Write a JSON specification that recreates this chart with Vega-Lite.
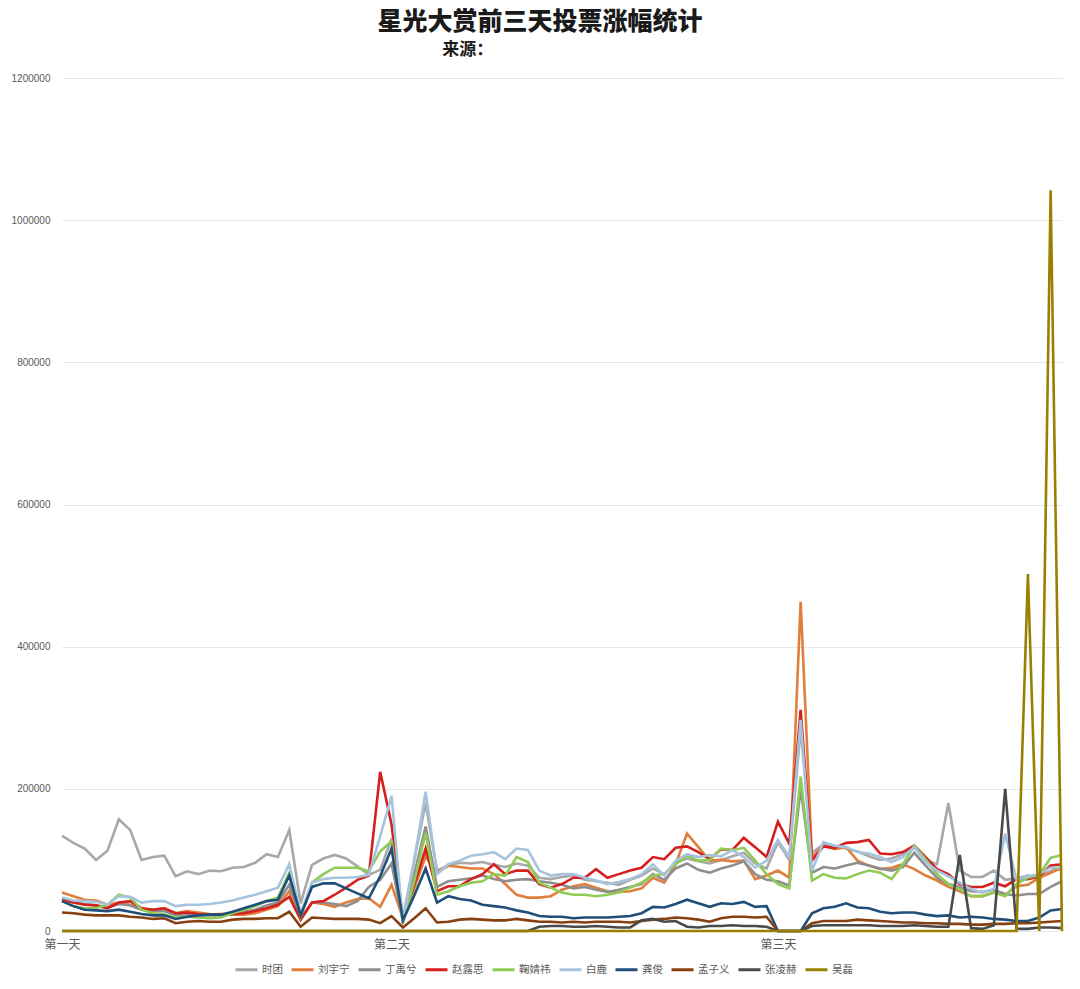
{
"$schema": "https://vega.github.io/schema/vega-lite/v6.json",
"width": 1000,
"height": 853,
"autosize": {"type": "none"},
"padding": {"left": 62, "top": 78, "right": 18, "bottom": 58},
"background": "white",
"title": {"text": "星光大赏前三天投票涨幅统计", "subtitle": "来源：　　　　　　　　　\u200b", "anchor": "middle", "dx": -22, "font": "Noto Sans CJK SC", "fontSize": 25, "fontWeight": 900, "color": "#1a1a1a", "subtitleFont": "Noto Sans CJK SC", "subtitleFontSize": 17, "subtitleFontWeight": 700, "subtitleColor": "#1a1a1a", "subtitlePadding": 7, "offset": 15},
"data": {"values": [
{"t":0,"时团":134000,"刘宇宁":54000,"丁禹兮":45000,"赵露思":44000,"鞠婧祎":42000,"白鹿":47000,"龚俊":42000,"孟子义":26000,"张凌赫":0,"吴磊":0},
{"t":1,"时团":124000,"刘宇宁":49000,"丁禹兮":40000,"赵露思":40000,"鞠婧祎":35000,"白鹿":43000,"龚俊":35000,"孟子义":25000,"张凌赫":0,"吴磊":0},
{"t":2,"时团":116000,"刘宇宁":44000,"丁禹兮":38000,"赵露思":37000,"鞠婧祎":32000,"白鹿":42000,"龚俊":30000,"孟子义":23000,"张凌赫":0,"吴磊":0},
{"t":3,"时团":100000,"刘宇宁":43000,"丁禹兮":36000,"赵露思":36000,"鞠婧祎":32000,"白鹿":41000,"龚俊":29000,"孟子义":22000,"张凌赫":0,"吴磊":0},
{"t":4,"时团":113000,"刘宇宁":37000,"丁禹兮":33000,"赵露思":32000,"鞠婧祎":37000,"白鹿":37000,"龚俊":28000,"孟子义":22000,"张凌赫":0,"吴磊":0},
{"t":5,"时团":157000,"刘宇宁":40000,"丁禹兮":38000,"赵露思":40000,"鞠婧祎":51000,"白鹿":49000,"龚俊":30000,"孟子义":22000,"张凌赫":0,"吴磊":0},
{"t":6,"时团":142000,"刘宇宁":37000,"丁禹兮":36000,"赵露思":42000,"鞠婧祎":47000,"白鹿":48000,"龚俊":27000,"孟子义":20000,"张凌赫":0,"吴磊":0},
{"t":7,"时团":100000,"刘宇宁":32000,"丁禹兮":30000,"赵露思":32000,"鞠婧祎":30000,"白鹿":40000,"龚俊":24000,"孟子义":19000,"张凌赫":0,"吴磊":0},
{"t":8,"时团":104000,"刘宇宁":30000,"丁禹兮":28000,"赵露思":30000,"鞠婧祎":25000,"白鹿":42000,"龚俊":22000,"孟子义":17000,"张凌赫":0,"吴磊":0},
{"t":9,"时团":106000,"刘宇宁":32000,"丁禹兮":28000,"赵露思":32000,"鞠婧祎":23000,"白鹿":42000,"龚俊":22000,"孟子义":18000,"张凌赫":0,"吴磊":0},
{"t":10,"时团":77000,"刘宇宁":25000,"丁禹兮":22000,"赵露思":25000,"鞠婧祎":19000,"白鹿":35000,"龚俊":17000,"孟子义":11000,"张凌赫":0,"吴磊":0},
{"t":11,"时团":84000,"刘宇宁":28000,"丁禹兮":24000,"赵露思":26000,"鞠婧祎":20000,"白鹿":37000,"龚俊":20000,"孟子义":13000,"张凌赫":0,"吴磊":0},
{"t":12,"时团":80000,"刘宇宁":26000,"丁禹兮":23000,"赵露思":24000,"鞠婧祎":19000,"白鹿":37000,"龚俊":22000,"孟子义":14000,"张凌赫":0,"吴磊":0},
{"t":13,"时团":85000,"刘宇宁":24000,"丁禹兮":22000,"赵露思":23000,"鞠婧祎":18000,"白鹿":38000,"龚俊":23000,"孟子义":13000,"张凌赫":0,"吴磊":0},
{"t":14,"时团":84000,"刘宇宁":23000,"丁禹兮":22000,"赵露思":24000,"鞠婧祎":19000,"白鹿":40000,"龚俊":23000,"孟子义":13000,"张凌赫":0,"吴磊":0},
{"t":15,"时团":89000,"刘宇宁":23000,"丁禹兮":24000,"赵露思":24000,"鞠婧祎":25000,"白鹿":43000,"龚俊":27000,"孟子义":16000,"张凌赫":0,"吴磊":0},
{"t":16,"时团":90000,"刘宇宁":23000,"丁禹兮":27000,"赵露思":25000,"鞠婧祎":30000,"白鹿":47000,"龚俊":32000,"孟子义":17000,"张凌赫":0,"吴磊":0},
{"t":17,"时团":96000,"刘宇宁":25000,"丁禹兮":30000,"赵露思":28000,"鞠婧祎":35000,"白鹿":51000,"龚俊":37000,"孟子义":17000,"张凌赫":0,"吴磊":0},
{"t":18,"时团":108000,"刘宇宁":30000,"丁禹兮":36000,"赵露思":32000,"鞠婧祎":42000,"白鹿":56000,"龚俊":42000,"孟子义":18000,"张凌赫":0,"吴磊":0},
{"t":19,"时团":104000,"刘宇宁":35000,"丁禹兮":40000,"赵露思":37000,"鞠婧祎":47000,"白鹿":61000,"龚俊":44000,"孟子义":18000,"张凌赫":0,"吴磊":0},
{"t":20,"时团":142000,"刘宇宁":56000,"丁禹兮":65000,"赵露思":48000,"鞠婧祎":82000,"白鹿":94000,"龚俊":78000,"孟子义":27000,"张凌赫":0,"吴磊":0},
{"t":21,"时团":39000,"刘宇宁":16000,"丁禹兮":18000,"赵露思":16000,"鞠婧祎":20000,"白鹿":25000,"龚俊":22000,"孟子义":6000,"张凌赫":0,"吴磊":0},
{"t":22,"时团":93000,"刘宇宁":40000,"丁禹兮":40000,"赵露思":40000,"鞠婧祎":68000,"白鹿":68000,"龚俊":62000,"孟子义":19000,"张凌赫":0,"吴磊":0},
{"t":23,"时团":102000,"刘宇宁":38000,"丁禹兮":40000,"赵露思":42000,"鞠婧祎":80000,"白鹿":73000,"龚俊":67000,"孟子义":18000,"张凌赫":0,"吴磊":0},
{"t":24,"时团":107000,"刘宇宁":34000,"丁禹兮":38000,"赵露思":51000,"鞠婧祎":89000,"白鹿":75000,"龚俊":67000,"孟子义":17000,"张凌赫":0,"吴磊":0},
{"t":25,"时团":102000,"刘宇宁":40000,"丁禹兮":35000,"赵露思":61000,"鞠婧祎":89000,"白鹿":75000,"龚俊":60000,"孟子义":17000,"张凌赫":0,"吴磊":0},
{"t":26,"时团":91000,"刘宇宁":45000,"丁禹兮":42000,"赵露思":72000,"鞠婧祎":89000,"白鹿":76000,"龚俊":53000,"孟子义":17000,"张凌赫":0,"吴磊":0},
{"t":27,"时团":79000,"刘宇宁":46000,"丁禹兮":62000,"赵露思":78000,"鞠婧祎":84000,"白鹿":79000,"龚俊":46000,"孟子义":16000,"张凌赫":0,"吴磊":0},
{"t":28,"时团":86000,"刘宇宁":34000,"丁禹兮":72000,"赵露思":224000,"鞠婧祎":112000,"白鹿":133000,"龚俊":77000,"孟子义":11000,"张凌赫":0,"吴磊":0},
{"t":29,"时团":130000,"刘宇宁":65000,"丁禹兮":95000,"赵露思":150000,"鞠婧祎":126000,"白鹿":190000,"龚俊":116000,"孟子义":21000,"张凌赫":0,"吴磊":0},
{"t":30,"时团":18000,"刘宇宁":18000,"丁禹兮":14000,"赵露思":15000,"鞠婧祎":10000,"白鹿":12000,"龚俊":15000,"孟子义":5000,"张凌赫":0,"吴磊":0},
{"t":31,"时团":100000,"刘宇宁":60000,"丁禹兮":80000,"赵露思":65000,"鞠婧祎":70000,"白鹿":100000,"龚俊":50000,"孟子义":18000,"张凌赫":0,"吴磊":0},
{"t":32,"时团":180000,"刘宇宁":105000,"丁禹兮":147000,"赵露思":116000,"鞠婧祎":138000,"白鹿":196000,"龚俊":88000,"孟子义":32000,"张凌赫":0,"吴磊":0},
{"t":33,"时团":85000,"刘宇宁":82000,"丁禹兮":62000,"赵露思":56000,"鞠婧祎":51000,"白鹿":80000,"龚俊":40000,"孟子义":12000,"张凌赫":0,"吴磊":0},
{"t":34,"时团":92000,"刘宇宁":92000,"丁禹兮":70000,"赵露思":63000,"鞠婧祎":56000,"白鹿":94000,"龚俊":49000,"孟子义":13000,"张凌赫":0,"吴磊":0},
{"t":35,"时团":96000,"刘宇宁":90000,"丁禹兮":72000,"赵露思":63000,"鞠婧祎":63000,"白鹿":99000,"龚俊":45000,"孟子义":16000,"张凌赫":0,"吴磊":0},
{"t":36,"时团":95000,"刘宇宁":88000,"丁禹兮":74000,"赵露思":73000,"鞠婧祎":68000,"白鹿":106000,"龚俊":43000,"孟子义":17000,"张凌赫":0,"吴磊":0},
{"t":37,"时团":97000,"刘宇宁":88000,"丁禹兮":78000,"赵露思":80000,"鞠婧祎":70000,"白鹿":108000,"龚俊":37000,"孟子义":16000,"张凌赫":0,"吴磊":0},
{"t":38,"时团":93000,"刘宇宁":80000,"丁禹兮":73000,"赵露思":94000,"鞠婧祎":80000,"白鹿":111000,"龚俊":35000,"孟子义":15000,"张凌赫":0,"吴磊":0},
{"t":39,"时团":90000,"刘宇宁":66000,"丁禹兮":70000,"赵露思":80000,"鞠婧祎":78000,"白鹿":101000,"龚俊":33000,"孟子义":15000,"张凌赫":0,"吴磊":0},
{"t":40,"时团":95000,"刘宇宁":51000,"丁禹兮":72000,"赵露思":85000,"鞠婧祎":104000,"白鹿":116000,"龚俊":29000,"孟子义":17000,"张凌赫":0,"吴磊":0},
{"t":41,"时团":92000,"刘宇宁":47000,"丁禹兮":73000,"赵露思":85000,"鞠婧祎":97000,"白鹿":114000,"龚俊":26000,"孟子义":15000,"张凌赫":0,"吴磊":0},
{"t":42,"时团":75000,"刘宇宁":47000,"丁禹兮":70000,"赵露思":66000,"鞠婧祎":68000,"白鹿":85000,"龚俊":21000,"孟子义":13000,"张凌赫":6000,"吴磊":0},
{"t":43,"时团":73000,"刘宇宁":49000,"丁禹兮":68000,"赵露思":61000,"鞠婧祎":61000,"白鹿":78000,"龚俊":20000,"孟子义":13000,"张凌赫":7000,"吴磊":0},
{"t":44,"时团":76000,"刘宇宁":58000,"丁禹兮":65000,"赵露思":66000,"鞠婧祎":54000,"白鹿":80000,"龚俊":20000,"孟子义":12000,"张凌赫":7000,"吴磊":0},
{"t":45,"时团":78000,"刘宇宁":63000,"丁禹兮":60000,"赵露思":75000,"鞠婧祎":51000,"白鹿":80000,"龚俊":18000,"孟子义":13000,"张凌赫":6000,"吴磊":0},
{"t":46,"时团":72000,"刘宇宁":66000,"丁禹兮":62000,"赵露思":75000,"鞠婧祎":51000,"白鹿":75000,"龚俊":19000,"孟子义":12000,"张凌赫":6000,"吴磊":0},
{"t":47,"时团":70000,"刘宇宁":61000,"丁禹兮":58000,"赵露思":87000,"鞠婧祎":49000,"白鹿":71000,"龚俊":19000,"孟子义":13000,"张凌赫":7000,"吴磊":0},
{"t":48,"时团":68000,"刘宇宁":56000,"丁禹兮":55000,"赵露思":75000,"鞠婧祎":51000,"白鹿":66000,"龚俊":19000,"孟子义":13000,"张凌赫":6000,"吴磊":0},
{"t":49,"时团":65000,"刘宇宁":55000,"丁禹兮":58000,"赵露思":80000,"鞠婧祎":54000,"白鹿":69000,"龚俊":20000,"孟子义":13000,"张凌赫":5000,"吴磊":0},
{"t":50,"时团":72000,"刘宇宁":56000,"丁禹兮":62000,"赵露思":85000,"鞠婧祎":61000,"白鹿":73000,"龚俊":21000,"孟子义":12000,"张凌赫":5000,"吴磊":0},
{"t":51,"时团":78000,"刘宇宁":60000,"丁禹兮":66000,"赵露思":89000,"鞠婧祎":68000,"白鹿":80000,"龚俊":25000,"孟子义":14000,"张凌赫":15000,"吴磊":0},
{"t":52,"时团":88000,"刘宇宁":75000,"丁禹兮":80000,"赵露思":104000,"鞠婧祎":78000,"白鹿":94000,"龚俊":34000,"孟子义":16000,"张凌赫":17000,"吴磊":0},
{"t":53,"时团":80000,"刘宇宁":68000,"丁禹兮":72000,"赵露思":101000,"鞠婧祎":80000,"白鹿":78000,"龚俊":33000,"孟子义":17000,"张凌赫":13000,"吴磊":0},
{"t":54,"时团":96000,"刘宇宁":94000,"丁禹兮":88000,"赵露思":117000,"鞠婧祎":94000,"白鹿":99000,"龚俊":38000,"孟子义":19000,"张凌赫":14000,"吴磊":0},
{"t":55,"时团":102000,"刘宇宁":137000,"丁禹兮":95000,"赵露思":119000,"鞠婧祎":106000,"白鹿":108000,"龚俊":44000,"孟子义":18000,"张凌赫":6000,"吴磊":0},
{"t":56,"时团":98000,"刘宇宁":118000,"丁禹兮":86000,"赵露思":111000,"鞠婧祎":99000,"白鹿":104000,"龚俊":39000,"孟子义":16000,"张凌赫":5000,"吴磊":0},
{"t":57,"时团":95000,"刘宇宁":99000,"丁禹兮":82000,"赵露思":101000,"鞠婧祎":100000,"白鹿":107000,"龚俊":34000,"孟子义":13000,"张凌赫":7000,"吴磊":0},
{"t":58,"时团":100000,"刘宇宁":100000,"丁禹兮":88000,"赵露思":115000,"鞠婧祎":116000,"白鹿":105000,"龚俊":39000,"孟子义":18000,"张凌赫":7000,"吴磊":0},
{"t":59,"时团":105000,"刘宇宁":98000,"丁禹兮":92000,"赵露思":114000,"鞠婧祎":114000,"白鹿":114000,"龚俊":38000,"孟子义":20000,"张凌赫":8000,"吴磊":0},
{"t":60,"时团":110000,"刘宇宁":99000,"丁禹兮":98000,"赵露思":131000,"鞠婧祎":117000,"白鹿":104000,"龚俊":41000,"孟子义":20000,"张凌赫":7000,"吴磊":0},
{"t":61,"时团":95000,"刘宇宁":73000,"丁禹兮":80000,"赵露思":118000,"鞠婧祎":99000,"白鹿":89000,"龚俊":34000,"孟子义":19000,"张凌赫":7000,"吴磊":0},
{"t":62,"时团":88000,"刘宇宁":78000,"丁禹兮":72000,"赵露思":104000,"鞠婧祎":80000,"白鹿":99000,"龚俊":35000,"孟子义":20000,"张凌赫":6000,"吴磊":0},
{"t":63,"时团":125000,"刘宇宁":85000,"丁禹兮":70000,"赵露思":154000,"鞠婧祎":66000,"白鹿":128000,"龚俊":0,"孟子义":0,"张凌赫":0,"吴磊":0},
{"t":64,"时团":100000,"刘宇宁":75000,"丁禹兮":64000,"赵露思":123000,"鞠婧祎":60000,"白鹿":104000,"龚俊":0,"孟子义":0,"张凌赫":0,"吴磊":0},
{"t":65,"时团":285000,"刘宇宁":463000,"丁禹兮":200000,"赵露思":311000,"鞠婧祎":217000,"白鹿":297000,"龚俊":0,"孟子义":0,"张凌赫":0,"吴磊":0},
{"t":66,"时团":110000,"刘宇宁":104000,"丁禹兮":82000,"赵露思":99000,"鞠婧祎":71000,"白鹿":85000,"龚俊":25000,"孟子义":11000,"张凌赫":7000,"吴磊":0},
{"t":67,"时团":122000,"刘宇宁":120000,"丁禹兮":90000,"赵露思":119000,"鞠婧祎":80000,"白鹿":125000,"龚俊":32000,"孟子义":14000,"张凌赫":8000,"吴磊":0},
{"t":68,"时团":120000,"刘宇宁":115000,"丁禹兮":88000,"赵露思":117000,"鞠婧祎":75000,"白鹿":120000,"龚俊":34000,"孟子义":14000,"张凌赫":8000,"吴磊":0},
{"t":69,"时团":116000,"刘宇宁":118000,"丁禹兮":92000,"赵露思":124000,"鞠婧祎":74000,"白鹿":118000,"龚俊":39000,"孟子义":14000,"张凌赫":8000,"吴磊":0},
{"t":70,"时团":112000,"刘宇宁":99000,"丁禹兮":96000,"赵露思":125000,"鞠婧祎":80000,"白鹿":111000,"龚俊":33000,"孟子义":16000,"张凌赫":8000,"吴磊":0},
{"t":71,"时团":105000,"刘宇宁":92000,"丁禹兮":92000,"赵露思":128000,"鞠婧祎":85000,"白鹿":109000,"龚俊":32000,"孟子义":15000,"张凌赫":8000,"吴磊":0},
{"t":72,"时团":100000,"刘宇宁":87000,"丁禹兮":88000,"赵露思":109000,"鞠婧祎":82000,"白鹿":104000,"龚俊":27000,"孟子义":14000,"张凌赫":7000,"吴磊":0},
{"t":73,"时团":102000,"刘宇宁":89000,"丁禹兮":85000,"赵露思":108000,"鞠婧祎":73000,"白鹿":97000,"龚俊":25000,"孟子义":13000,"张凌赫":7000,"吴磊":0},
{"t":74,"时团":108000,"刘宇宁":94000,"丁禹兮":90000,"赵露思":111000,"鞠婧祎":94000,"白鹿":104000,"龚俊":26000,"孟子义":12000,"张凌赫":7000,"吴磊":0},
{"t":75,"时团":120000,"刘宇宁":87000,"丁禹兮":110000,"赵露思":120000,"鞠婧祎":120000,"白鹿":118000,"龚俊":26000,"孟子义":12000,"张凌赫":8000,"吴磊":0},
{"t":76,"时团":100000,"刘宇宁":78000,"丁禹兮":92000,"赵露思":104000,"鞠婧祎":101000,"白鹿":97000,"龚俊":23000,"孟子义":11000,"张凌赫":7000,"吴磊":0},
{"t":77,"时团":94000,"刘宇宁":71000,"丁禹兮":75000,"赵露思":87000,"鞠婧祎":80000,"白鹿":85000,"龚俊":21000,"孟子义":11000,"张凌赫":6000,"吴磊":0},
{"t":78,"时团":180000,"刘宇宁":62000,"丁禹兮":66000,"赵露思":80000,"鞠婧祎":66000,"白鹿":77000,"龚俊":22000,"孟子义":10000,"张凌赫":6000,"吴磊":0},
{"t":79,"时团":85000,"刘宇宁":56000,"丁禹兮":62000,"赵露思":66000,"鞠婧祎":59000,"白鹿":68000,"龚俊":19000,"孟子义":10000,"张凌赫":107000,"吴磊":0},
{"t":80,"时团":76000,"刘宇宁":49000,"丁禹兮":56000,"赵露思":62000,"鞠婧祎":49000,"白鹿":59000,"龚俊":20000,"孟子义":9000,"张凌赫":4000,"吴磊":0},
{"t":81,"时团":76000,"刘宇宁":49000,"丁禹兮":55000,"赵露思":62000,"鞠婧祎":49000,"白鹿":54000,"龚俊":19000,"孟子义":9000,"张凌赫":3000,"吴磊":0},
{"t":82,"时团":85000,"刘宇宁":54000,"丁禹兮":58000,"赵露思":68000,"鞠婧祎":54000,"白鹿":59000,"龚俊":17000,"孟子义":10000,"张凌赫":8000,"吴磊":0},
{"t":83,"时团":72000,"刘宇宁":51000,"丁禹兮":52000,"赵露思":63000,"鞠婧祎":49000,"白鹿":137000,"龚俊":16000,"孟子义":10000,"张凌赫":200000,"吴磊":0},
{"t":84,"时团":74000,"刘宇宁":63000,"丁禹兮":50000,"赵露思":73000,"鞠婧祎":66000,"白鹿":72000,"龚俊":14000,"孟子义":11000,"张凌赫":3000,"吴磊":0},
{"t":85,"时团":78000,"刘宇宁":65000,"丁禹兮":52000,"赵露思":73000,"鞠婧祎":75000,"白鹿":77000,"龚俊":14000,"孟子义":11000,"张凌赫":3000,"吴磊":502000},
{"t":86,"时团":76000,"刘宇宁":75000,"丁禹兮":52000,"赵露思":77000,"鞠婧祎":79000,"白鹿":80000,"龚俊":19000,"孟子义":12000,"张凌赫":5000,"吴磊":0},
{"t":87,"时团":84000,"刘宇宁":82000,"丁禹兮":62000,"赵露思":92000,"鞠婧祎":103000,"白鹿":89000,"龚俊":29000,"孟子义":13000,"张凌赫":5000,"吴磊":1042000},
{"t":88,"时团":90000,"刘宇宁":89000,"丁禹兮":70000,"赵露思":94000,"鞠婧祎":107000,"白鹿":89000,"龚俊":31000,"孟子义":14000,"张凌赫":4000,"吴磊":0}
]},
"transform": [{"fold": ["时团","刘宇宁","丁禹兮","赵露思","鞠婧祎","白鹿","龚俊","孟子义","张凌赫","吴磊"], "as": ["s","v"]}],
"mark": {"type": "line", "strokeWidth": 2.6},
"encoding": {
"x": {"field": "t", "type": "quantitative", "scale": {"domain": [0, 88], "nice": false, "zero": false},
 "axis": {"values": [0, 29, 63], "labelExpr": "datum.value == 0 ? '第一天' : datum.value == 29 ? '第二天' : '第三天'", "title": null, "grid": false, "ticks": false, "domain": false, "labelFlush": false, "labelFontSize": 12, "labelColor": "#595959", "labelFont": "Noto Sans CJK SC", "labelPadding": 8}},
"y": {"field": "v", "type": "quantitative", "scale": {"domain": [0, 1200000], "nice": false},
 "axis": {"values": [0, 200000, 400000, 600000, 800000, 1000000, 1200000], "format": "d", "title": null, "domain": false, "ticks": false, "gridColor": "#e6e6e6", "gridWidth": 1, "labelFontSize": 10, "labelFont": "Liberation Sans", "labelColor": "#595959", "labelPadding": 12}},
"color": {"field": "s", "type": "nominal",
 "scale": {"domain": ["时团","刘宇宁","丁禹兮","赵露思","鞠婧祎","白鹿","龚俊","孟子义","张凌赫","吴磊"],
  "range": ["#a8a8a8","#e07f3c","#8e8e8e","#d61f1f","#8fcc55","#a6c3de","#1f4f78","#87400f","#4a4a4a","#9a8000"]},
 "legend": {"title": null, "orient": "none", "legendX": 172, "legendY": 879, "direction": "horizontal", "symbolType": "stroke", "symbolSize": 484, "symbolStrokeWidth": 3, "labelFontSize": 10.5, "labelFont": "Noto Sans CJK SC", "labelColor": "#595959", "columnPadding": 2, "labelOffset": 3}}
},
"config": {"view": {"stroke": null}}
}
